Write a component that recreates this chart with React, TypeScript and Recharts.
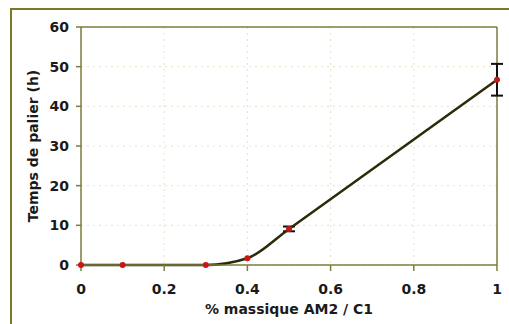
import React from 'react';
import { LineChart, Line, XAxis, YAxis, CartesianGrid, ErrorBar, ReferenceLine, Label } from 'recharts';

// values
const massFractions = [0, 0.1, 0.3, 0.4, 0.5, 1];
const holdTimes = [0, 0, 0, 1.7, 9.1, 46.7];
const holdErrors = [null, null, null, null, 0.6, 4];
const xTicks = [0, 0.2, 0.4, 0.6, 0.8, 1];
const yTicks = [0, 10, 20, 30, 40, 50, 60];

const data = massFractions.map((x, i) => ({ x, t: holdTimes[i], err: holdErrors[i] }));

const FONT = '"DejaVu Sans", Verdana, sans-serif';
const AXIS = '#7d7d3c';
const tickStyle = { fontFamily: FONT, fontSize: 14, fontWeight: 'bold' as const, fill: '#1a1a1a' };

const YTitle = (props: any) => {
  const { viewBox } = props;
  const x = viewBox.x + 2;
  const y = viewBox.y + viewBox.height / 2;
  return (
    <text x={x} y={y} transform={`rotate(-90 ${x} ${y})`} textAnchor="middle" dominantBaseline="central"
      style={tickStyle}>
      Temps de palier (h)
    </text>
  );
};

export default function App() {
  return (
    <div style={{ position: 'fixed', left: 0, top: 0, width: 509, height: 324, background: '#fff', overflow: 'hidden' }}>
      <div style={{ position: 'absolute', left: 10, top: 8, width: 600, height: 400, borderLeft: '2px solid #7a7a22', borderTop: '2px solid #7a7a22' }} />
      <LineChart width={509} height={324} data={data} margin={{ top: 27, right: 12, bottom: 29, left: 31 }}
        style={{ position: 'absolute', left: 0, top: 0 }}>
        <CartesianGrid stroke="#e4e4c4" strokeDasharray="2 4" />
        <XAxis dataKey="x" type="number" domain={[0, 1]} ticks={xTicks} height={30}
          stroke={AXIS} strokeWidth={1.5} tickSize={6} tickMargin={13} tick={tickStyle}>
          <Label value="% massique AM2 / C1" position="bottom" offset={9} style={tickStyle} />
        </XAxis>
        <YAxis type="number" domain={[0, 60]} ticks={yTicks} width={50}
          stroke={AXIS} strokeWidth={1.5} tickSize={5} tickMargin={7} tick={tickStyle}>
          <Label content={<YTitle />} position="left" />
        </YAxis>
        <ReferenceLine y={60} stroke={AXIS} strokeWidth={1.5} />
        <ReferenceLine x={1} stroke={AXIS} strokeWidth={1.5} />
        <Line dataKey="t" type="monotone" stroke="#2b2b08" strokeWidth={2.5} isAnimationActive={false}
          dot={{ r: 3, fill: '#cc1515', stroke: 'none' }} activeDot={false}>
          <ErrorBar dataKey="err" direction="y" width={6} stroke="#111" strokeWidth={2} />
        </Line>
      </LineChart>
    </div>
  );
}
